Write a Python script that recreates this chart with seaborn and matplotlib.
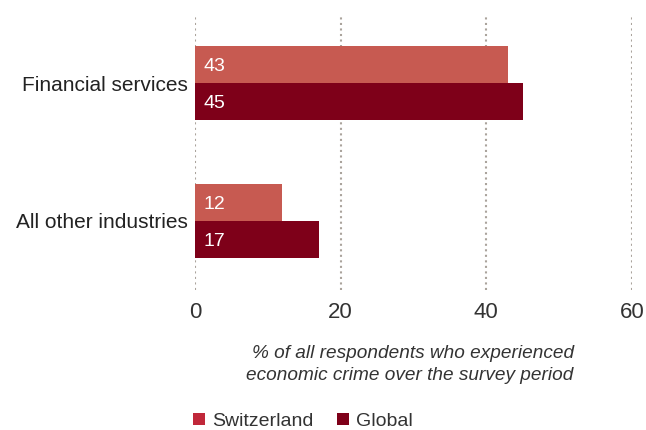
import matplotlib
matplotlib.use("Agg")
import matplotlib.pyplot as plt
from matplotlib.patches import Patch
import seaborn as sns
import pandas as pd

industries = ["Financial services", "All other industries"]
series = ["Switzerland", "Global"]
switzerland = [43, 12]
global_vals = [45, 17]
x_ticks = [0, 20, 40, 60]

bar_colors = {"Switzerland": "#c75a51", "Global": "#7e0019"}
legend_colors = {"Switzerland": "#c0283a", "Global": "#7e0019"}

df = pd.DataFrame({
    "industry": industries * 2,
    "series": ["Switzerland"] * len(industries) + ["Global"] * len(industries),
    "value": switzerland + global_vals,
})

sns.set_theme(style="white")
plt.rcParams["font.family"] = ["Liberation Sans", "DejaVu Sans"]

fig = plt.figure(figsize=(6.46, 4.30), dpi=100)
ax = fig.add_axes([0.302, 0.326, 0.676, 0.641])

sns.barplot(data=df, y="industry", x="value", hue="series", order=industries,
            hue_order=series, palette=bar_colors, orient="h", width=0.536,
            saturation=1, legend=False, ax=ax, errorbar=None, linewidth=0)

# value labels inside the bars
for container in ax.containers:
    for bar in container:
        val = bar.get_width()
        ax.text(bar.get_x() + 1.1, bar.get_y() + bar.get_height() / 2 + 0.012,
                f"{val:.0f}", color="white", fontsize=14,
                va="center", ha="left")

ax.set_xlim(0, 60)
ax.set_ylim(1.5, -0.5)
ax.set_xticks(x_ticks)
ax.set_xticklabels([str(t) for t in x_ticks], fontsize=16, color="#333333")
ax.tick_params(axis="x", length=0, pad=9)
ax.tick_params(axis="y", length=0, pad=5, labelsize=15, labelcolor="#222222")
ax.set_ylabel("")
ax.set_xlabel("")

for t in x_ticks:
    ax.axvline(t, color="#aaa39c", linestyle=(0, (1, 1.65)), linewidth=1.5,
               zorder=0)
for s in ax.spines.values():
    s.set_visible(False)

fig.text(0.888, 0.153, "% of all respondents who experienced\neconomic crime over the survey period",
         ha="right", va="center", fontsize=13.7, style="italic", color="#333333",
         linespacing=1.4)

handles = [Patch(facecolor=legend_colors[s], edgecolor="none", label=s)
           for s in series]
fig.legend(handles=handles, loc="lower left", bbox_to_anchor=(0.272, -0.04),
           ncol=2, frameon=False, fontsize=14, handlelength=0.62,
           handleheight=0.62, handletextpad=0.35, columnspacing=1.2,
           labelcolor="#333333")

fig.savefig("out.png", dpi=100)
